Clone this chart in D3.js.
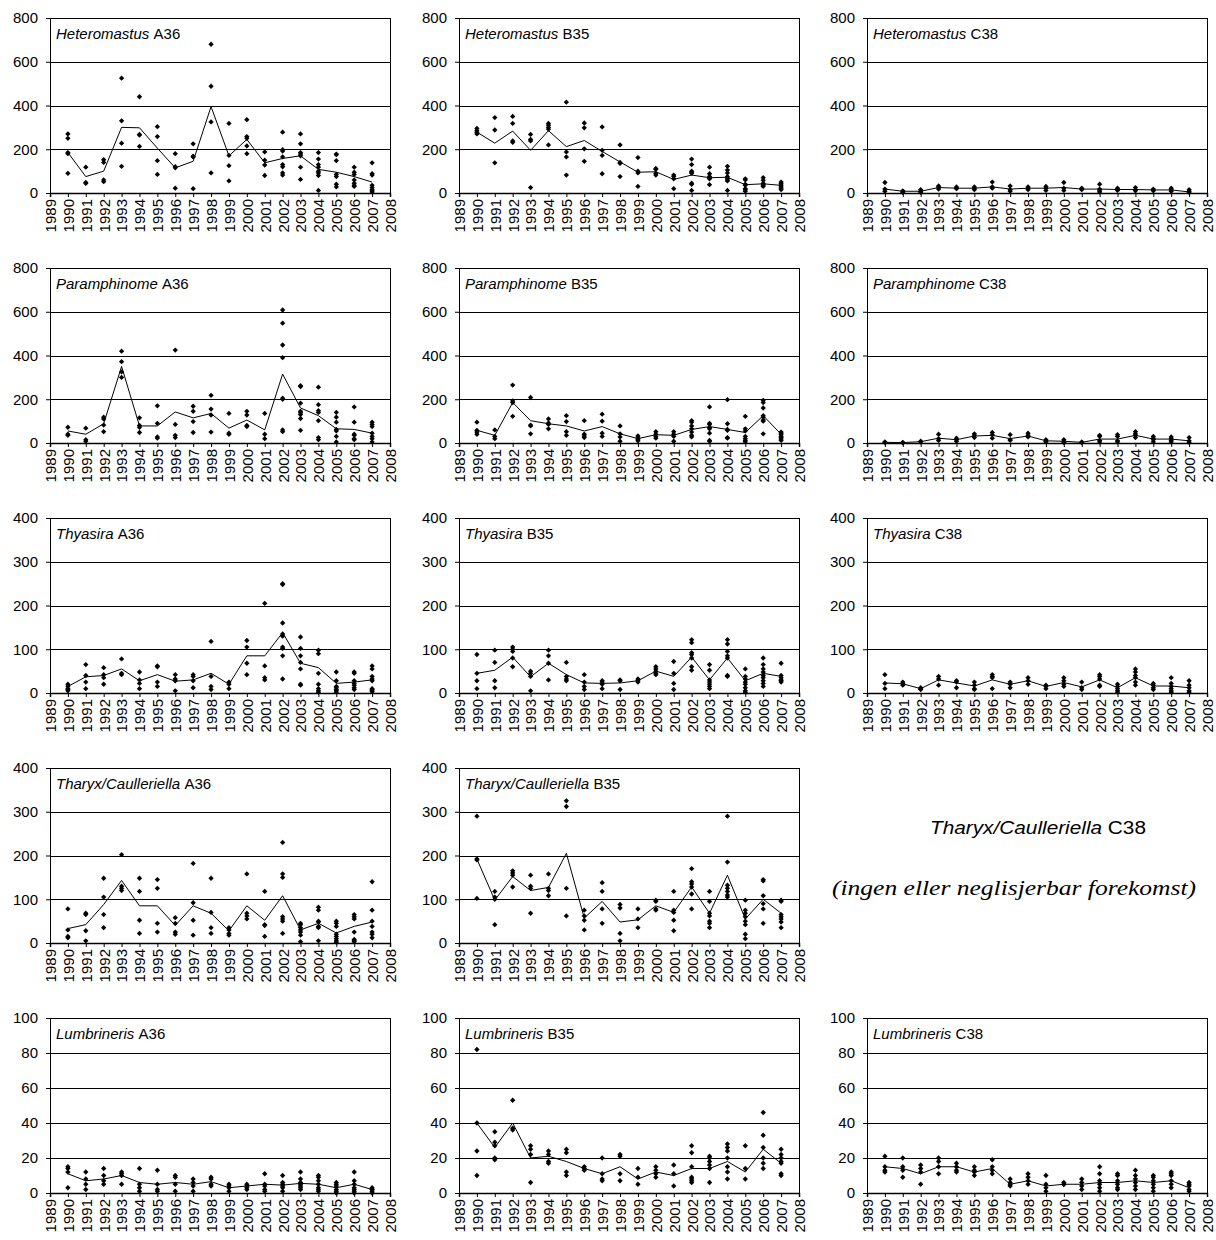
<!DOCTYPE html>
<html><head><meta charset="utf-8">
<script src="https://cdn.jsdelivr.net/npm/d3@7"></script>
<style>
body{margin:0;background:#fff}
svg{display:block}
text{font-family:"Liberation Sans",Arial,sans-serif}
</style>
</head><body>
<svg id="c" width="1216" height="1240"></svg>
<script>
// ---------- categories / ticks ----------
const years = [1990,1991,1992,1993,1994,1995,1996,1997,1998,1999,2000,2001,2002,2003,2004,2005,2006,2007];
const yearTicks = [1989,1990,1991,1992,1993,1994,1995,1996,1997,1998,1999,2000,2001,2002,2003,2004,2005,2006,2007,2008];
const ticks800 = [0,200,400,600,800];
const ticks400 = [0,100,200,300,400];
const ticks100 = [0,20,40,60,80,100];

// ---------- Heteromastus ----------
const heteroA36 = [[270,250,185,180,90],[118,48,44],[152,140,60,52],[525,330,228,122],[440,268,265,213],[303,258,148,85],[180,120,115,22],[225,168,165,20],[680,488,325,92],[318,172,125,55],[335,258,250,215,180],[188,150,128,80],[278,198,192,165,130,120,92,82],[270,225,185,178,170,118,62],[185,155,130,118,100,92,80,12],[178,175,148,85,75,40,28],[118,95,85,60,45,35,30],[138,88,82,35,25,15,10,5]];
const heteroA36Mean = [185,75,100,300,298,205,115,145,395,170,245,138,158,170,108,95,75,50];
const heteroB35 = [[295,285,278,270],[345,288,138],[350,318,238,232],[268,245,238,25],[318,310,300,292,220],[415,188,165,82],[320,298,202,145],[302,195,172,88],[220,140,135,75],[162,100,92,30],[112,108,90,82],[82,75,65,20],[155,130,100,95,90,45,40,12],[118,88,75,68,65,38],[122,105,92,75,68,60,55,12],[65,60,40,35,20,15,8],[70,58,45,40,35,30],[50,42,35,28,22,15]];
const heteroB35Mean = [278,228,283,195,285,212,240,190,142,95,97,62,82,70,72,38,42,35];
const heteroC38 = [[48,18,8],[10,5,3],[15,8,3],[32,28,18],[28,22,20],[28,22,15],[50,28,22],[32,15,8],[28,22,15],[30,22,12],[48,22,12],[22,18,15],[40,18,10,5],[22,18,12],[25,15,10],[18,15,10],[22,15,8],[15,8,3]];
const heteroC38Mean = [18,8,8,25,22,22,28,18,22,22,25,18,18,16,16,14,14,5];

// ---------- Paramphinome ----------
const paraA36 = [[72,40,35],[68,15,8],[118,110,82,52],[420,372,325,300],[115,80,72,48],[170,90,28,22],[425,85,35,25],[168,145,98,48],[218,155,128,50],[135,45,40],[145,128,80,75],[135,40,20],[608,548,448,390,205,200,60,52],[262,258,182,145,138,130,112,58],[255,175,148,140,102,25,15],[140,118,95,62,55,30,5],[165,95,40,35,20,15],[95,85,75,45,30,20,5]];
const paraA36Mean = [55,40,88,350,78,78,142,115,135,68,105,60,315,160,125,65,62,45];
const paraB35 = [[95,58,50,40],[60,30,20],[265,192,185,122],[208,82,78,42],[110,92,85,65],[125,98,52,35],[102,40,32,25],[132,100,45,30],[78,42,28,8],[32,22,15,10],[52,40,30,22],[52,40,30,8],[102,95,78,65,50,35,28],[165,90,85,70,65,45,12,8],[198,88,62,58,25,22],[122,65,55,30,20,12,5],[195,185,160,125,118,105,100,42],[50,45,38,30,25,18,12]];
const paraB35Mean = [58,35,185,102,88,78,55,75,42,20,38,35,62,75,62,48,125,40];
const paraC38 = [[5,2],[3,1],[8,5],[40,20,12],[22,15,8],[42,35,25],[48,38,22],[38,15,12],[45,35,28],[15,8,5],[15,8,2],[5,2],[35,30,12,5],[38,30,10,5],[52,42,35,25],[30,22,15,5],[28,20,12,5],[25,10,3]];
const paraC38Mean = [3,2,6,22,15,32,35,20,32,10,8,3,18,18,35,18,18,10];

// ---------- Thyasira ----------
const thyaA36 = [[20,15,10,8,5],[65,40,25,10],[58,42,35,20],[78,45,42],[48,30,22,10],[62,60,25,15],[42,32,28,5],[42,38,28,12],[118,38,15,8],[25,20,10],[120,105,68,42],[205,62,35,30],[250,248,160,135,130,105,102,85,32],[128,102,85,70,55,20,18],[98,90,45,20,10,5,2],[48,28,15,12,8,5,2],[48,45,28,22,18,12,8],[62,55,38,32,28,10,8,5,3]];
const thyaA36Mean = [15,37,40,55,28,42,27,30,45,20,85,85,138,68,58,22,25,30];
const thyaB35 = [[88,45,28,10],[98,70,28,12],[105,100,95,80,60],[50,45,38,5],[98,85,68,30],[70,38,32,28],[42,25,15,8],[28,25,20,10],[30,28,8],[32,28,25],[60,55,50,45,42],[72,45,22,8],[122,115,92,88,80,60,52],[65,52,30,25,20,15,10],[122,112,95,85,80,40,38],[55,38,32,25,20,12,5,2],[80,65,55,48,40,35,28,22,15],[68,40,35,30,28,25]];
const thyaB35Mean = [45,52,82,37,68,42,23,22,23,28,50,38,82,30,80,28,45,38];
const thyaC38 = [[42,22,10],[25,22,18],[12,10,8],[38,32,18],[28,25,12],[25,18,10,8],[42,38,35,10],[25,20,12],[35,28,20],[18,15,10],[35,28,20,15],[25,12,8],[42,38,32,18,15],[20,15,10,5,2],[55,48,40,35,25,18],[22,18,12,8],[35,22,15,10,5,2],[28,18,12,5,2]];
const thyaC38Mean = [23,21,10,30,23,16,30,20,28,15,24,14,30,12,35,16,16,12];

// ---------- Tharyx/Caulleriella ----------
const tharA36 = [[78,30,15,12],[68,65,28,5],[148,105,65,35],[202,130,125,120],[148,118,52,22],[145,125,45,25],[58,45,25,20],[182,92,52,18],[148,70,35,22],[35,30,22,18],[158,68,62,55],[118,42,40,15],[230,158,150,60,55,50,22],[45,42,35,30,25,18,3],[82,75,50,48,38,35,5],[50,45,38,20,15,10,5,2],[65,60,55,25,8,5,3],[140,75,50,38,25,20,12]];
const tharA36Mean = [33,42,88,143,85,85,40,85,68,28,85,52,108,30,45,23,38,48];
const tharB35 = [[290,192,190,102],[118,105,100,42],[165,160,155,128],[155,130,125,68],[158,125,120,108],[325,312,125,62],[75,62,52,30],[138,118,78,45],[88,80,22,5],[78,55,35],[98,95,78,75],[118,75,70,52,28],[170,140,135,128,112,78],[118,95,68,62,50,45,35],[290,185,132,125,118,110,105],[98,75,68,60,50,42,20,10],[145,142,108,90,78,45],[98,95,65,60,55,48,35]];
const tharB35Mean = [192,98,152,120,127,205,57,95,48,53,85,70,128,68,155,55,100,68];

// ---------- Lumbrineris ----------
const lumbA36 = [[15,14,12,3],[12,8,5,2],[14,10,7,5],[12,11,10,5],[14,5,3,1],[13,5,2,1],[10,9,5,1],[8,6,4,1],[9,8,5,4],[5,4,3,1],[5,4,3,2],[11,5,4,2,1],[10,6,5,4,3,1],[12,8,6,5,4,3,2],[10,9,7,5,3,2,1],[6,5,4,2,1,0],[12,7,5,3,2,1,0],[3,2,2,1,0]];
const lumbA36Mean = [11,7,8,10,6,5,6,5,6.5,3,4,5,4.5,5.5,5,3,5,2];
const lumbB35 = [[82,40,24,10],[35,29,27,20,19],[53,37,36],[27,25,22,6],[24,22,18,17],[25,23,12,10],[15,14,13],[20,11,8,7],[22,21,11,7],[14,9,5],[15,13,11,9],[16,11,4],[27,23,15,9,8,7,6],[21,20,18,16,14,6],[28,26,24,20,15,12,8],[27,14,8],[46,33,26,20,17,14],[25,22,20,18,17,11,10]];
const lumbB35Mean = [40,26,40,20,21,18,14,11,15,8,12,10,14,14,18,12,25,17];
const lumbC38 = [[21,15,13,12],[20,15,13,9],[16,14,12,5],[20,18,15,11],[17,15,13,12],[15,13,12,10],[19,15,13,11],[8,6,5,4],[11,9,7,5],[10,5,3,1],[6,5,5],[8,6,4,2],[15,11,7,5,3,1],[11,10,7,5,3,2],[13,10,8,6,4,2],[10,9,7,5,3,1],[12,11,10,7,5,3],[6,5,4,2,1]];
const lumbC38Mean = [15,14,11,15,15,12,14,5,7,4,5,5,6,6,7,6,7,3];

// ---------- panel table ----------
const panels = [
  {sp:"Heteromastus", st:"A36", row:0, col:0, pts:heteroA36, mean:heteroA36Mean, ticks:ticks800},
  {sp:"Heteromastus", st:"B35", row:0, col:1, pts:heteroB35, mean:heteroB35Mean, ticks:ticks800},
  {sp:"Heteromastus", st:"C38", row:0, col:2, pts:heteroC38, mean:heteroC38Mean, ticks:ticks800},
  {sp:"Paramphinome", st:"A36", row:1, col:0, pts:paraA36, mean:paraA36Mean, ticks:ticks800},
  {sp:"Paramphinome", st:"B35", row:1, col:1, pts:paraB35, mean:paraB35Mean, ticks:ticks800},
  {sp:"Paramphinome", st:"C38", row:1, col:2, pts:paraC38, mean:paraC38Mean, ticks:ticks800},
  {sp:"Thyasira", st:"A36", row:2, col:0, pts:thyaA36, mean:thyaA36Mean, ticks:ticks400},
  {sp:"Thyasira", st:"B35", row:2, col:1, pts:thyaB35, mean:thyaB35Mean, ticks:ticks400},
  {sp:"Thyasira", st:"C38", row:2, col:2, pts:thyaC38, mean:thyaC38Mean, ticks:ticks400},
  {sp:"Tharyx/Caulleriella", st:"A36", row:3, col:0, pts:tharA36, mean:tharA36Mean, ticks:ticks400},
  {sp:"Tharyx/Caulleriella", st:"B35", row:3, col:1, pts:tharB35, mean:tharB35Mean, ticks:ticks400},
  {sp:"Lumbrineris", st:"A36", row:4, col:0, pts:lumbA36, mean:lumbA36Mean, ticks:ticks100},
  {sp:"Lumbrineris", st:"B35", row:4, col:1, pts:lumbB35, mean:lumbB35Mean, ticks:ticks100},
  {sp:"Lumbrineris", st:"C38", row:4, col:2, pts:lumbC38, mean:lumbC38Mean, ticks:ticks100}
];

// ---------- layout ----------
const colX = [50, 459, 867];
const rowY = [18, 268, 518, 768, 1018];
const W = 340, H = 175;
const svg = d3.select("#c");
const x = d3.scaleLinear().domain([1989, 2008]).range([0, W]);
const marker = d3.symbol().type(d3.symbolSquare).size(14);

panels.forEach(p => {
  const g = svg.append("g").attr("transform", `translate(${colX[p.col]},${rowY[p.row]})`);
  const y = d3.scaleLinear().domain([0, d3.max(p.ticks)]).range([H, 0]);

  // gridlines
  g.selectAll("line.grid").data(p.ticks.filter(t => t > 0)).join("line")
    .attr("x1", 0).attr("x2", W)
    .attr("y1", d => Math.round(y(d)) + 0.5).attr("y2", d => Math.round(y(d)) + 0.5)
    .attr("stroke", "#000").attr("stroke-width", 1);
  // right frame
  g.append("line").attr("x1", W + 0.5).attr("x2", W + 0.5).attr("y1", 0).attr("y2", H)
    .attr("stroke", "#000").attr("stroke-width", 1);

  // axes
  const ya = g.append("g").call(d3.axisLeft(y).tickValues(p.ticks).tickSizeOuter(0).tickSize(4).tickPadding(8));
  ya.selectAll("text").attr("font-size", 15).attr("fill", "#000").style("font-family", "Liberation Sans, Arial, sans-serif");
  ya.select(".domain").attr("stroke", "#000");

  const xa = g.append("g").attr("transform", `translate(0,${H})`)
    .call(d3.axisBottom(x).tickValues(yearTicks).tickFormat(d3.format("d")).tickSizeOuter(0).tickSize(4));
  xa.select(".domain").attr("stroke", "#000").attr("stroke-width", 1.5);
  xa.selectAll("text")
    .attr("transform", "rotate(-90)")
    .attr("text-anchor", "end")
    .attr("x", -6).attr("y", 0).attr("dy", "0.36em")
    .attr("font-size", 15).attr("fill", "#000")
    .style("font-family", "Liberation Sans, Arial, sans-serif");

  // points
  const flat = [];
  p.pts.forEach((arr, i) => arr.forEach(v => flat.push({yr: years[i], v})));
  g.selectAll("path.pt").data(flat).join("path").attr("class", "pt")
    .attr("d", marker)
    .attr("transform", d => `translate(${x(d.yr)},${y(d.v)}) rotate(45)`)
    .attr("fill", "#000");

  // mean line
  const line = d3.line().x((d, i) => x(years[i])).y(d => y(d));
  g.append("path").datum(p.mean).attr("d", line)
    .attr("fill", "none").attr("stroke", "#000").attr("stroke-width", 1);

  // title
  const t = g.append("text").attr("x", 6).attr("y", 21).attr("font-size", 15).attr("fill", "#000");
  t.append("tspan").attr("font-style", "italic").text(p.sp);
  t.append("tspan").text("\u00a0" + p.st);
});

// empty panel note
const note = svg.append("g");
const nt = note.append("text").attr("x", 930).attr("y", 834)
  .attr("font-size", 18).attr("fill", "#000")
  .attr("textLength", 216).attr("lengthAdjust", "spacingAndGlyphs");
nt.append("tspan").attr("font-style", "italic").text("Tharyx/Caulleriella");
nt.append("tspan").text(" C38");
note.append("text").attr("x", 832).attr("y", 895)
  .attr("font-size", 21).attr("font-style", "italic").attr("fill", "#000")
  .attr("textLength", 364).attr("lengthAdjust", "spacingAndGlyphs")
  .style("font-family", "Liberation Serif, Times New Roman, serif")
  .text("(ingen eller neglisjerbar forekomst)");
</script>
</body></html>
